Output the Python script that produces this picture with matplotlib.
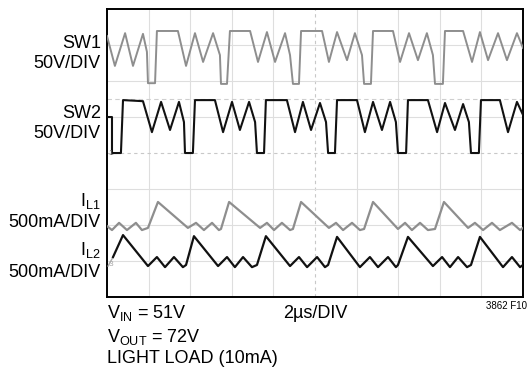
import matplotlib
matplotlib.use("Agg")
import matplotlib.pyplot as plt

plt.rcParams['font.family'] = ['Liberation Sans', 'DejaVu Sans']
plt.rcParams['mathtext.default'] = 'regular'

# ---------------------------------------------------------------------
# SCOPE TRACES  (time in us, level in screen divisions 0..8)
# ---------------------------------------------------------------------
sw1_t = [0.00, 0.38, 0.87, 1.25, 1.73, 1.92, 1.97, 2.31, 2.40, 3.41, 3.80, 4.23, 4.62,
         5.10, 5.43, 5.48, 5.77, 5.91, 6.88, 7.26, 7.69, 8.08, 8.56, 8.80, 8.94, 9.23,
         9.33, 10.34, 10.67, 11.06, 11.54, 11.92, 12.26, 12.36, 12.69, 12.79, 13.75,
         14.09, 14.52, 14.95, 15.38, 15.67, 15.77, 16.15, 16.25, 17.12, 17.55, 17.93,
         18.32, 18.80, 19.23, 19.71, 20.00]
sw1_v = [7.25, 6.42, 7.33, 6.42, 7.31, 6.81, 5.94, 5.94, 7.39, 7.39, 6.42, 7.33, 6.53,
         7.33, 6.72, 5.92, 5.92, 7.39, 7.39, 6.53, 7.36, 6.53, 7.33, 6.72, 5.92, 5.92,
         7.39, 7.39, 6.53, 7.36, 6.58, 7.33, 6.72, 5.92, 5.92, 7.39, 7.39,
         6.53, 7.33, 6.58, 7.33, 6.72, 5.92, 5.92, 7.39, 7.39, 6.53, 7.36,
         6.58, 7.33, 6.58, 7.33, 6.92]

sw2_t = [0.00, 0.24, 0.24, 0.67, 0.77, 1.73, 2.16, 2.60, 3.03, 3.46, 3.70, 3.75, 4.13,
         4.23, 5.19, 5.58, 6.01, 6.39, 6.83, 7.12, 7.21, 7.55, 7.64, 8.65, 9.04, 9.42,
         9.81, 10.24, 10.53, 10.63, 10.96, 11.06, 12.02, 12.40, 12.79, 13.22, 13.61,
         13.89, 13.99, 14.38, 14.47, 15.43, 15.87, 16.25, 16.73, 17.12, 17.40, 17.50,
         17.88, 17.98, 18.89, 19.28, 19.71, 20.00]
sw2_v = [5.00, 5.00, 4.00, 4.00, 5.47, 5.44, 4.58, 5.42, 4.64, 5.42, 4.86, 4.00, 4.00,
         5.47, 5.47, 4.58, 5.42, 4.64, 5.42, 4.86, 4.00, 4.00, 5.47, 5.47, 4.58, 5.42,
         4.64, 5.39, 4.86, 4.00, 4.00, 5.47, 5.47, 4.58, 5.42, 4.64, 5.42,
         4.86, 4.00, 4.00, 5.47, 5.47, 4.58, 5.39, 4.64, 5.36, 4.86, 4.00,
         4.00, 5.47, 5.47, 4.58, 5.42, 5.06]

il1_t = [0.00, 0.24, 0.58, 0.96, 1.39, 1.68, 1.97, 2.45, 3.89, 4.28, 4.66, 5.05, 5.38,
         5.48, 5.87, 7.36, 7.69, 8.03, 8.41, 8.80, 8.94, 9.33, 10.67, 11.01, 11.35,
         11.78, 12.16, 12.36, 12.79, 13.99, 14.33, 14.66, 15.05, 15.43, 15.77, 16.20,
         17.36, 17.69, 18.08, 18.51, 18.89, 19.47, 19.86, 20.00]
il1_v = [1.97, 1.86, 2.06, 1.86, 2.06, 1.86, 1.92, 2.64, 1.92, 2.06, 1.86, 2.06, 1.86,
         1.89, 2.64, 1.92, 2.06, 1.86, 2.06, 1.86, 1.89, 2.64, 1.92, 2.06, 1.86,
         2.06, 1.86, 1.89, 2.64, 1.89, 2.06, 1.86, 2.06, 1.86, 1.89, 2.64,
         1.92, 2.06, 1.86, 2.06, 1.86, 2.06, 1.86, 1.92]

il2_t = [0.29, 0.77, 1.97, 2.40, 2.79, 3.22, 3.65, 3.80, 4.18, 5.34, 5.77, 6.15, 6.54,
         6.97, 7.21, 7.64, 8.80, 9.23, 9.62, 10.10, 10.48, 10.63, 11.06, 12.16, 12.64,
         13.03, 13.51, 13.89, 13.99, 14.47, 15.67, 16.11, 16.49, 16.88, 17.31, 17.50,
         17.93, 19.04, 19.47, 19.86, 20.00]
il2_v = [1.11, 1.72, 0.86, 1.11, 0.83, 1.11, 0.83, 0.89, 1.69, 0.86, 1.11, 0.83, 1.11,
         0.83, 0.89, 1.69, 0.86, 1.11, 0.83, 1.11, 0.83, 0.89, 1.67, 0.83, 1.11,
         0.83, 1.11, 0.83, 0.89, 1.67, 0.86, 1.11, 0.83, 1.11, 0.83, 0.89,
         1.67, 0.83, 1.11, 0.83, 0.89]
il2_lead_t = [0.05, 0.29]
il2_lead_v = [0.86, 1.11]

# ---------------------------------------------------------------------
# LABELS
# ---------------------------------------------------------------------
trace_names = ["SW1", "SW2", r"I$_{L1}$", r"I$_{L2}$"]
trace_scales = ["50V/DIV", "50V/DIV", "500mA/DIV", "500mA/DIV"]
name_y = [7.05, 5.11, 2.68, 1.30]
scale_y = [6.48, 4.53, 2.08, 0.69]
bottom_notes = [r"V$_{IN}$ = 51V", r"V$_{OUT}$ = 72V", "LIGHT LOAD (10mA)"]
timebase = "2µs/DIV"
fig_id = "3862 F10"

fig = plt.figure(figsize=(5.31, 3.67), dpi=100)
ax = fig.add_axes([0.2015, 0.1907, 0.7834, 0.7847])
ax.set_xlim(0, 20)
ax.set_ylim(0, 8)

# graticule
for k in range(1, 10):
    if k == 5:
        ax.axvline(k * 2, color="#c8c8c8", lw=0.8, ls=(0, (3, 3)), zorder=1)
    else:
        ax.axvline(k * 2, color="#dedede", lw=0.8, zorder=1)
for k in range(1, 8):
    if k == 4:
        ax.axhline(k, color="#c8c8c8", lw=0.8, ls=(0, (3, 3)), zorder=1)
    else:
        ax.axhline(k, color="#dedede", lw=0.8, zorder=1)
ax.axhline(5.5, color="#cfcfcf", lw=0.8, ls=(0, (4, 3)), zorder=1)

# traces
ax.plot(sw1_t, sw1_v, color="#8e8e8e", lw=1.4, zorder=3)
ax.plot(sw2_t, sw2_v, color="#111111", lw=1.5, zorder=3)
ax.plot(il1_t, il1_v, color="#8e8e8e", lw=1.6, zorder=3)
ax.plot(il2_lead_t, il2_lead_v, color="#aaaaaa", lw=1.0, zorder=3)
ax.plot(il2_t, il2_v, color="#111111", lw=1.6, zorder=3)

# channel markers
ax.text(0.08, 4.0, "1", fontsize=6, color="#555555", ha="left", va="center")
ax.text(0.08, 0.89, "3", fontsize=6, color="#aaaaaa", ha="left", va="center")

ax.set_xticks([])
ax.set_yticks([])
for s in ax.spines.values():
    s.set_linewidth(1.4)
    s.set_color("black")

# left labels
for nm, sc, ny, sy in zip(trace_names, trace_scales, name_y, scale_y):
    ax.text(-0.3, ny, nm, fontsize=13, ha="right", va="center")
    ax.text(-0.3, sy, sc, fontsize=13, ha="right", va="center")

# bottom notes
note_y = [-0.45, -1.1, -1.7]
for txt, ny in zip(bottom_notes, note_y):
    ax.text(0.0, ny, txt, fontsize=13, ha="left", va="center")
ax.text(10.0, -0.45, timebase, fontsize=13, ha="center", va="center")
ax.text(20.2, -0.24, fig_id, fontsize=7, ha="right", va="center")

fig.savefig("out.png", dpi=100)
plt.close(fig)
